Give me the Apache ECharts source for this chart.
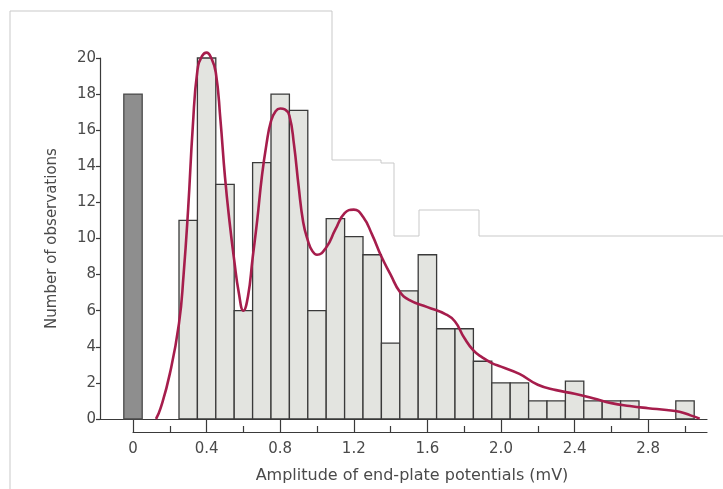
<!DOCTYPE html>
<html>

<head lang="en">
  <meta charset="UTF-8">
  <title>End-plate potentials</title>
  <script src="https://cdn.jsdelivr.net/npm/echarts@6/dist/echarts.min.js"></script>
  <style>
  html, body { margin: 0; padding: 0; background: #fff; }
  #main { width: 723px; height: 489px; }
  </style>
</head>

<body>
  <div id="main"></div>
</body>
<script>
// spontaneous (zero-amplitude) failures
var failureBins = [0];
var failureCounts = [18];

// histogram bins, 0.1 mV wide
var binCenters = [0.3, 0.4, 0.5, 0.6, 0.7, 0.8, 0.9, 1.0, 1.1, 1.2, 1.3, 1.4, 1.5, 1.6,
  1.7, 1.8, 1.9, 2.0, 2.1, 2.2, 2.3, 2.4, 2.5, 2.6, 2.7, 2.8, 2.9, 3.0];
var binCounts = [11, 20, 13, 6, 14.2, 18, 17.1, 6, 11.1, 10.1, 9.1, 4.2, 7.1, 9.1,
  5, 5, 3.2, 2, 2, 1, 1, 2.1, 1, 1, 1, 0, 0, 1];

// fitted curve
var curveX = [0.125, 0.15, 0.2, 0.25, 0.275, 0.3, 0.325, 0.35, 0.375, 0.4, 0.425, 0.45, 0.475,
  0.5, 0.525, 0.55, 0.575, 0.6, 0.625, 0.65, 0.675, 0.7, 0.725, 0.75, 0.775, 0.8, 0.825,
  0.85, 0.875, 0.9, 0.925, 0.95, 0.975, 1.0, 1.05, 1.1, 1.15, 1.2, 1.25, 1.3, 1.35, 1.4,
  1.45, 1.5, 1.6, 1.7, 1.75, 1.8, 1.85, 1.9, 1.95, 2.0, 2.1, 2.2, 2.3, 2.4, 2.5, 2.6, 2.7,
  2.8, 2.9, 2.97, 3.03, 3.08];
var curveY = [0, 0.6, 2.5, 5.3, 8.0, 11.7, 16.2, 19.3, 20.1, 20.3, 20.0, 19.2, 16.6,
  13.4, 10.9, 8.8, 7.0, 6.0, 6.8, 8.9, 11.0, 13.4, 15.2, 16.5, 17.05, 17.2, 17.15,
  16.8, 15.2, 12.9, 10.9, 9.9, 9.3, 9.1, 9.5, 10.5, 11.4, 11.6, 11.2, 10.2, 9.0, 8.0,
  7.05, 6.6, 6.2, 5.8, 5.4, 4.5, 3.8, 3.4, 3.1, 2.9, 2.5, 1.9, 1.6, 1.4, 1.15, 0.88, 0.72,
  0.6, 0.5, 0.4, 0.2, 0.02];

var xMajorTicks = [0, 0.4, 0.8, 1.2, 1.6, 2.0, 2.4, 2.8];
var xMinorTicks = [0.2, 0.6, 1.0, 1.4, 1.8, 2.2, 2.6, 3.0];

var binWidth = 0.1;
var pxPerMV = 184;
var xMax = 574 / pxPerMV;
var xMinLeft = -33 / pxPerMV;

var textFont = 'DejaVu Sans';
var textColor = '#4a4a4a';
var axisColor = '#3a3a3a';

var chart = echarts.init(document.getElementById('main'));

function pairs(xs, ys) {
  var out = [];
  for (var i = 0; i < xs.length; i++) {
    out.push([xs[i], ys[i]]);
  }
  return out;
}

function barRenderer(fill, stroke) {
  return function(params, api) {
    var c = api.value(0);
    var v = api.value(1);
    if (!v) return null;
    var p0 = api.coord([c - binWidth / 2, v]);
    var p1 = api.coord([c + binWidth / 2, 0]);
    return {
      type: 'rect',
      shape: { x: p0[0], y: p0[1], width: p1[0] - p0[0], height: p1[1] - p0[1] },
      style: { fill: fill, stroke: stroke, lineWidth: 1.3 }
    };
  };
}

var option = {
  animation: false,
  backgroundColor: '#fff',
  graphic: [{
    type: 'polyline',
    z: -10,
    silent: true,
    shape: {
      points: [[10, 489], [10, 11], [332, 11], [332, 160], [381, 160], [381, 163], [394, 163],
        [394, 236], [419, 236], [419, 210], [479, 210], [479, 236], [723, 236]]
    },
    style: { stroke: '#c9c9c9', lineWidth: 1, fill: null }
  }],
  grid: [
    { left: 100, right: 16, top: 58, bottom: 70 },
    { left: 133, right: 16, top: 58, bottom: 57 }
  ],
  xAxis: [{
    gridIndex: 0,
    type: 'value',
    min: xMinLeft,
    max: xMax,
    axisLine: { show: true, lineStyle: { color: axisColor, width: 1.2 } },
    axisTick: { show: false },
    axisLabel: { show: false },
    splitLine: { show: false }
  }, {
    gridIndex: 1,
    type: 'value',
    min: 0,
    max: xMax,
    position: 'bottom',
    axisLine: { show: true, lineStyle: { color: axisColor, width: 1.2 } },
    axisTick: {
      show: true, inside: true, length: 12, customValues: xMajorTicks,
      lineStyle: { color: axisColor, width: 1.2 }
    },
    axisLabel: {
      show: true, customValues: xMajorTicks, margin: 10,
      fontFamily: textFont, fontSize: 15, color: textColor,
      formatter: function(v) { return v === 0 ? '0' : v.toFixed(1); }
    },
    splitLine: { show: false },
    name: 'Amplitude of end-plate potentials (mV)',
    nameLocation: 'middle',
    nameGap: 36,
    nameTextStyle: { fontFamily: textFont, fontSize: 16, color: textColor, padding: [0, 16, 0, 0] }
  }, {
    gridIndex: 1,
    type: 'value',
    min: 0,
    max: xMax,
    position: 'bottom',
    axisLine: { show: false },
    axisTick: {
      show: true, inside: true, length: 6, customValues: xMinorTicks,
      lineStyle: { color: axisColor, width: 1.2 }
    },
    axisLabel: { show: false },
    splitLine: { show: false }
  }],
  yAxis: [{
    gridIndex: 0,
    type: 'value',
    min: 0,
    max: 20,
    interval: 2,
    axisLine: { show: true, onZero: false, lineStyle: { color: axisColor, width: 1.2 } },
    axisTick: { show: true, length: 4, lineStyle: { color: axisColor, width: 1.2 } },
    axisLabel: { margin: 4, fontFamily: textFont, fontSize: 15, color: textColor },
    splitLine: { show: false },
    name: 'Number of observations',
    nameLocation: 'middle',
    nameGap: 40,
    nameTextStyle: { fontFamily: textFont, fontSize: 15, color: textColor }
  }, {
    gridIndex: 1,
    type: 'value',
    min: 0,
    max: 20,
    show: false
  }],
  series: [{
    type: 'custom',
    xAxisIndex: 0,
    yAxisIndex: 0,
    clip: false,
    renderItem: barRenderer('#8e8e8e', '#4a4a4a'),
    data: pairs(failureBins, failureCounts)
  }, {
    type: 'custom',
    xAxisIndex: 0,
    yAxisIndex: 0,
    clip: false,
    renderItem: barRenderer('#e3e4e0', '#3a3a3a'),
    data: pairs(binCenters, binCounts)
  }, {
    type: 'line',
    xAxisIndex: 0,
    yAxisIndex: 0,
    clip: false,
    smooth: 0.5,
    symbol: 'none',
    lineStyle: { color: '#a61d4c', width: 2.6 },
    z: 5,
    data: pairs(curveX, curveY)
  }]
};

chart.setOption(option);
</script>

</html>
